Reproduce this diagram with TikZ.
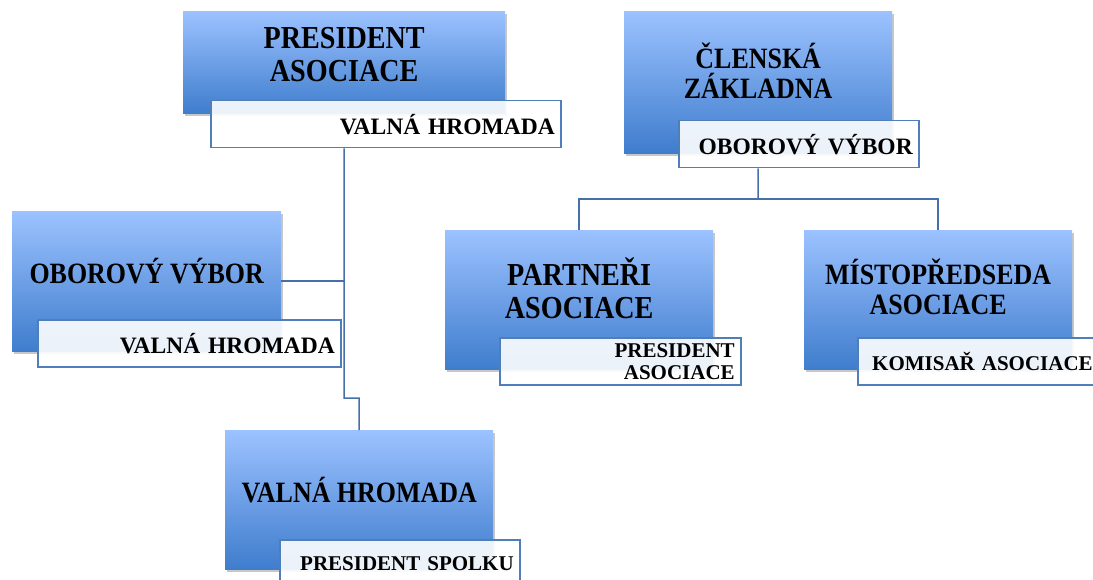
\documentclass[tikz,border=0pt]{standalone}
\usepackage{fontspec}
\setmainfont{Liberation Serif}
\newfontfamily\hlavnifont{Liberation Serif}[FakeStretch=0.88]
\usetikzlibrary{shadows}
\definecolor{svetla}{RGB}{156,194,255}
\definecolor{stredni}{RGB}{120,162,234}
\definecolor{tmava}{RGB}{63,125,205}
\definecolor{ramec}{RGB}{79,126,187}
\definecolor{linka}{RGB}{72,112,168}
\tikzset{
  hlavni/.style={draw=none, top color=svetla, middle color=stredni, bottom color=tmava,
    anchor=north west, inner sep=0pt, minimum width=268pt, minimum height=139pt,
    drop shadow={shadow xshift=2pt, shadow yshift=-3pt, fill=black, opacity=0.22}},
  nadpis/.style={font=\hlavnifont\bfseries\fontsize{29.5}{30}\selectfont, align=center, inner sep=0pt},
  velky/.style={font=\hlavnifont\bfseries\fontsize{32}{33}\selectfont},
  stitek/.style={draw=ramec, line width=1.5pt, fill=white, fill opacity=0.9, text opacity=1,
    anchor=north west, minimum height=47pt, inner xsep=6pt, inner ysep=0pt,
    font=\bfseries\fontsize{21}{22}\selectfont, align=right},
  stitekvelky/.style={font=\bfseries\fontsize{23.5}{26}\selectfont},
  spoj/.style={draw=linka, line width=1.5pt}
}
\begin{document}
\begin{tikzpicture}[x=1pt,y=-1pt]
    \useasboundingbox (0,0) rectangle (1093,580);
    % Levy strom
    \node[hlavni, minimum width=322pt, minimum height=102pt] (pres) at (183,11) {};
    \node[nadpis, velky] (pres-t) at ([yshift=8pt]pres.center) {PRESIDENT\\ASOCIACE};
    \node[stitek, stitekvelky, text width=338pt] (pres-s) at (210,100) {VALNÁ HROMADA};
    \node[hlavni, minimum width=269pt, minimum height=140pt] (obor) at (12,211) {};
    \node[nadpis] (obor-t) at ([yshift=10pt]obor.center) {OBOROVÝ VÝBOR};
    \node[stitek, stitekvelky, text width=291pt] (obor-s) at (37,319) {VALNÁ HROMADA};
    \node[hlavni] (valna) at (225,430) {};
    \node[nadpis] (valna-t) at ([yshift=10pt]valna.center) {VALNÁ HROMADA};
    \node[stitek, text width=228pt] (valna-s) at (279,539) {PRESIDENT SPOLKU};
    % Pravy strom
    \node[hlavni, minimum height=142pt] (clen) at (624,11) {};
    \node[nadpis] (clen-t) at ([yshift=11pt]clen.center) {ČLENSKÁ\\ZÁKLADNA};
    \node[stitek, stitekvelky, text width=228pt] (clen-s) at (678,120) {OBOROVÝ VÝBOR};
    \node[hlavni] (part) at (445,230) {};
    \node[nadpis, velky] (part-t) at ([yshift=11pt]part.center) {PARTNEŘI\\ASOCIACE};
    \node[stitek, text width=229pt] (part-s) at (499,337) {PRESIDENT\\ASOCIACE};
    \node[hlavni] (mist) at (804,230) {};
    \node[nadpis] (mist-t) at ([yshift=13pt]mist.center) {MÍSTOPŘEDSEDA\\ASOCIACE};
    \node[stitek, text width=229pt] (mist-s) at (857,337) {KOMISAŘ ASOCIACE};
    % Spojnice
    \coordinate (koleno) at (344,398);
    \coordinate (rozcesti) at (758,199);
    \draw[spoj] (pres.center |- pres-s.south) -- (koleno) -| (valna.north);
    \draw[spoj] (obor.east) -- (obor.east -| pres.center);
    \draw[spoj] (clen.center |- clen-s.south) -- (rozcesti);
    \draw[spoj] (part.north) |- (rozcesti) -| (mist.north);
\end{tikzpicture}
\end{document}
